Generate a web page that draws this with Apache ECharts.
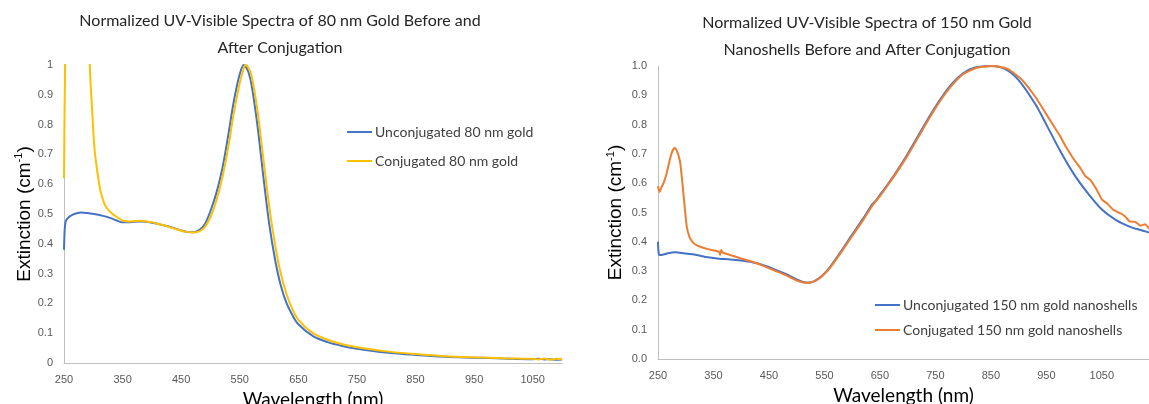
<!DOCTYPE html>
<html>
<head>
<meta charset="utf-8">
<script src="https://cdn.jsdelivr.net/npm/echarts@6/dist/echarts.min.js"></script>
<style>
html,body{margin:0;padding:0;background:#fff;}
#c{width:1149px;height:404px;}
</style>
</head>
<body>
<div id="c"></div>
<script>
// ---------- Data: 80 nm gold ----------
const wl80 = [250,251,252,253,256,260,265,270,280,290,294,298,302,307,312,320,330,340,350,360,370,380,390,400,410,420,430,440,450,460,470,480,490,500,510,520,530,540,550,557,560,565,570,580,590,600,610,620,630,640,650,675,700,725,750,800,850,900,950,1000,1050,1060,1070,1080,1090,1100];
const unconj80 = [0.38,0.44,0.465,0.475,0.485,0.492,0.498,0.502,0.505,0.503,0.502,0.501,0.5,0.498,0.496,0.492,0.486,0.478,0.472,0.472,0.474,0.475,0.474,0.471,0.467,0.462,0.457,0.451,0.445,0.44,0.439,0.445,0.465,0.51,0.57,0.65,0.76,0.88,0.97,1.0,0.995,0.975,0.935,0.8,0.63,0.47,0.35,0.26,0.2,0.16,0.13,0.09,0.07,0.057,0.048,0.035,0.027,0.021,0.018,0.015,0.013,0.014,0.012,0.013,0.011,0.012];
const conj80 = [0.62,0.85,1.0,1.3,1.5,1.5,1.5,1.5,1.5,1.5,1.0,0.85,0.72,0.64,0.58,0.53,0.505,0.49,0.478,0.475,0.476,0.477,0.475,0.472,0.467,0.462,0.456,0.45,0.444,0.44,0.438,0.441,0.455,0.49,0.545,0.62,0.72,0.84,0.94,0.99,1.0,0.99,0.965,0.85,0.69,0.53,0.4,0.3,0.23,0.18,0.145,0.1,0.078,0.063,0.053,0.039,0.03,0.023,0.019,0.016,0.014,0.012,0.015,0.011,0.014,0.012];

// ---------- Data: 150 nm gold nanoshells ----------
const wl150 = [250,251,253,260,270,280,290,300,320,340,360,380,400,420,440,460,480,500,510,520,530,540,550,560,580,600,620,635,640,650,660,680,700,720,740,760,780,800,820,850,875,900,930,950,975,1000,1025,1050,1075,1100,1120,1135];
const unconj150 = [0.40,0.365,0.355,0.357,0.362,0.364,0.363,0.36,0.355,0.347,0.342,0.34,0.336,0.33,0.32,0.306,0.29,0.272,0.264,0.26,0.264,0.275,0.292,0.314,0.368,0.425,0.48,0.525,0.535,0.56,0.585,0.64,0.7,0.765,0.83,0.89,0.94,0.975,0.994,1.0,0.99,0.952,0.87,0.8,0.71,0.63,0.565,0.51,0.475,0.452,0.44,0.432];

const wl150c = [250,251,253,256,260,265,270,275,280,283,286,290,294,298,302,307,312,318,325,340,360,362,364,366,380,400,420,440,460,480,500,510,520,530,540,550,560,580,600,620,635,640,650,660,680,700,720,740,760,780,800,825,855,880,905,930,950,965,975,985,1000,1010,1020,1030,1040,1050,1060,1070,1080,1090,1100,1110,1120,1128,1135];
const conj150 = [0.59,0.58,0.57,0.585,0.6,0.63,0.67,0.705,0.72,0.715,0.7,0.67,0.6,0.52,0.45,0.415,0.4,0.39,0.384,0.375,0.366,0.355,0.372,0.364,0.355,0.343,0.332,0.318,0.302,0.286,0.268,0.262,0.26,0.264,0.274,0.29,0.311,0.364,0.42,0.475,0.52,0.532,0.556,0.582,0.636,0.695,0.76,0.825,0.885,0.935,0.972,0.994,1.0,0.99,0.955,0.895,0.835,0.79,0.76,0.725,0.68,0.655,0.625,0.61,0.58,0.545,0.53,0.51,0.5,0.49,0.47,0.468,0.455,0.46,0.445];

// ---------- Tick labels / text ----------
const title80 = 'Normalized UV-Visible Spectra of 80 nm Gold Before and\nAfter Conjugation';
const title150 = 'Normalized UV-Visible Spectra of 150 nm Gold\nNanoshells Before and After Conjugation';
const names80 = ['Unconjugated 80 nm gold','Conjugated 80 nm gold'];
const names150 = ['Unconjugated 150 nm gold nanoshells','Conjugated 150 nm gold nanoshells'];

function pairs(xs, ys){ return xs.map((x,i)=>[x, ys[i]]); }

const GEO = 'Lato, "Noto Sans", sans-serif';
const AX = '"Liberation Sans", Arial, sans-serif';
const axisLine = {show:true, lineStyle:{color:'#BFBFBF', width:1}};

function xAxis(gi, max){
  return {
    type:'value', gridIndex:gi, min:250, max:max, interval:100,
    axisLine:axisLine, axisTick:{show:false}, splitLine:{show:false},
    axisLabel:{color:'#595959', fontSize:11, fontFamily:AX, margin:11, showMaxLabel:false, formatter:v=>String(v)},
    name:'Wavelength (nm)', nameLocation:'middle', nameGap:27,
    nameTextStyle:{color:'#000', fontSize:19, fontFamily:GEO}
  };
}
function yAxis(gi, fmt, gap){
  return {
    type:'value', gridIndex:gi, min:0, max:1, interval:0.1,
    axisLine:axisLine, axisTick:{show:false}, splitLine:{show:false},
    axisLabel:{color:'#595959', fontSize:11, fontFamily:AX, margin:11, formatter:fmt},
    name:'Extinction (cm{s|-1})', nameLocation:'middle', nameGap:gap, nameRotate:90,
    nameTextStyle:{color:'#000', fontSize:19, fontFamily:AX,
      rich:{s:{fontSize:11, fontFamily:AX, color:'#000', verticalAlign:'top', padding:[0,0,10,0]}}}
  };
}

const chart = echarts.init(document.getElementById('c'), null, {renderer:'canvas'});
chart.setOption({
  animation:false,
  backgroundColor:'#fff',
  title:[
    {text:title80, left:275, top:2, textAlign:'center',
     textStyle:{fontFamily:GEO, fontSize:16, fontWeight:'normal', color:'#262626', lineHeight:27}},
    {text:title150, left:862, top:4, textAlign:'center',
     textStyle:{fontFamily:GEO, fontSize:16, fontWeight:'normal', color:'#262626', lineHeight:27}}
  ],
  legend:[
    {data:names80, orient:'vertical', left:347, top:125, padding:0, itemWidth:25, itemHeight:2, itemGap:15, icon:'rect',
     textStyle:{fontFamily:GEO, fontSize:14, color:'#404040', padding:[0,0,0,-2]}},
    {data:names150, orient:'vertical', left:875, top:298, padding:0, itemWidth:25, itemHeight:2, itemGap:11, icon:'rect',
     textStyle:{fontFamily:GEO, fontSize:14, color:'#404040', padding:[0,0,0,-2]}}
  ],
  grid:[
    {left:64, top:65, width:498, height:298, outerBoundsMode:'none', containLabel:false},
    {left:658, top:66, width:491, height:293, outerBoundsMode:'none', containLabel:false}
  ],
  xAxis:[xAxis(0,1100), xAxis(1,1135)],
  yAxis:[yAxis(0,null,28), yAxis(1,v=>v.toFixed(1),32)],
  series:[
    {name:names80[0], type:'line', xAxisIndex:0, yAxisIndex:0, data:pairs(wl80,unconj80), showSymbol:false, smooth:0.3,
     clip:true, color:'#4472C4', lineStyle:{width:2}},
    {name:names80[1], type:'line', xAxisIndex:0, yAxisIndex:0, data:pairs(wl80,conj80), showSymbol:false, smooth:0.3,
     clip:true, color:'#FFC000', lineStyle:{width:2}},
    {name:names150[0], type:'line', xAxisIndex:1, yAxisIndex:1, data:pairs(wl150,unconj150), showSymbol:false, smooth:0.3,
     clip:true, color:'#4472C4', lineStyle:{width:2}},
    {name:names150[1], type:'line', xAxisIndex:1, yAxisIndex:1, data:pairs(wl150c,conj150), showSymbol:false, smooth:0.2,
     clip:true, color:'#ED7D31', lineStyle:{width:2}}
  ]
});
</script>
</body>
</html>
